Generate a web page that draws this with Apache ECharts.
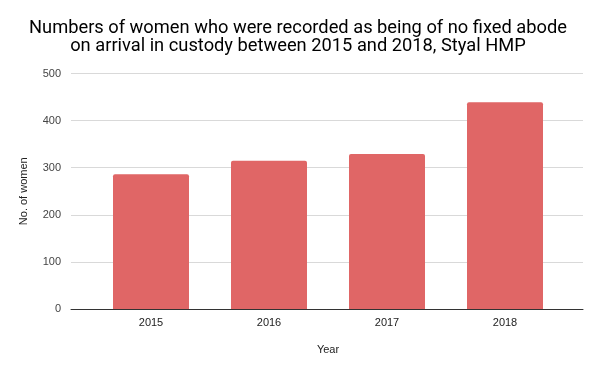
<!DOCTYPE html>
<html><head><meta charset="utf-8">
<script src="https://cdn.jsdelivr.net/npm/echarts@6/dist/echarts.min.js"></script>
<style>html,body{margin:0;padding:0;background:#fff}#c{width:602px;height:373px}</style>
</head><body><div id="c"></div>
<script>
const categories = ['2015', '2016', '2017', '2018'];
const women = [286, 315, 329, 439];
const yTicks = [0, 100, 200, 300, 400, 500];

const labelFont = {fontFamily: 'Liberation Sans', fontSize: 11, color: '#222'};
const chart = echarts.init(document.getElementById('c'), null, {renderer: 'canvas'});
chart.setOption({
  animation: false,
  backgroundColor: '#ffffff',
  title: {
    text: 'Numbers of women who were recorded as being of no fixed abode\non arrival in custody between 2015 and 2018, Styal HMP',
    left: 293, top: 14, textAlign: 'center',
    textStyle: {fontFamily: 'Roboto', fontSize: 18.3, fontWeight: 'normal', color: '#000', lineHeight: 18.5}
  },
  grid: [
    {left: 71, right: 19, top: 73.5, bottom: 64, containLabel: false},
    {left: 92, right: 38, top: 73.5, bottom: 64, containLabel: false}
  ],
  xAxis: [{
    gridIndex: 0, type: 'category', data: categories,
    axisLine: {lineStyle: {color: '#333', width: 1}},
    axisTick: {show: false}, axisLabel: {show: false}, splitLine: {show: false}
  }, {
    gridIndex: 1, type: 'category', data: categories,
    name: 'Year', nameLocation: 'middle', nameGap: 35,
    nameTextStyle: labelFont,
    axisLine: {show: false}, axisTick: {show: false},
    axisLabel: Object.assign({margin: 8}, labelFont)
  }],
  yAxis: [{
    gridIndex: 0, type: 'value', min: yTicks[0], max: yTicks[yTicks.length - 1], interval: 100,
    name: 'No. of women', nameLocation: 'middle', nameGap: 42, nameRotate: 90,
    nameTextStyle: labelFont,
    axisLine: {show: false}, axisTick: {show: false},
    axisLabel: {fontFamily: 'Liberation Sans', fontSize: 11, color: '#444', margin: 10},
    splitLine: {lineStyle: {color: '#d9d9d9', width: 1}}
  }, {
    gridIndex: 1, type: 'value', min: yTicks[0], max: yTicks[yTicks.length - 1], interval: 100,
    show: false, splitLine: {show: false}
  }],
  series: [{
    type: 'bar', data: women, barWidth: 76, xAxisIndex: 1, yAxisIndex: 1,
    itemStyle: {color: '#e06666', borderRadius: [2, 2, 0, 0]}
  }]
});
</script></body></html>
